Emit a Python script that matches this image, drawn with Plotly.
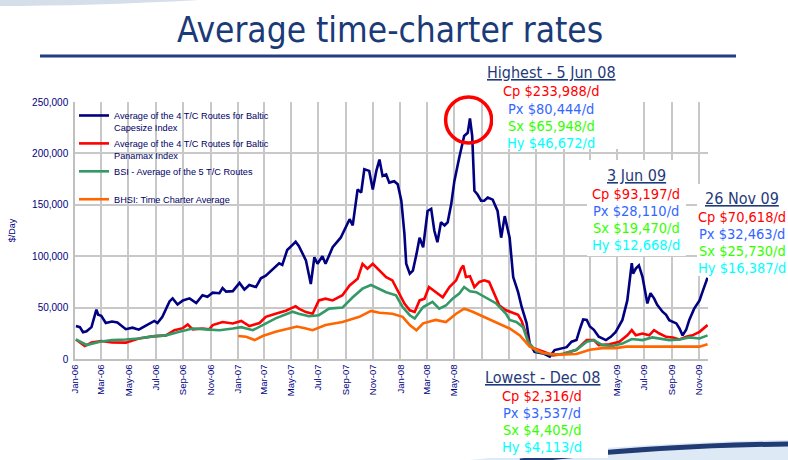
import plotly.graph_objects as go
import pandas as pd

# ---------------- data (values in $/day) ----------------
cape_dates = ["2006-01-03","2006-01-12","2006-01-19","2006-01-27","2006-02-07","2006-02-18","2006-02-22","2006-03-01","2006-03-11","2006-03-25",
 "2006-04-06","2006-04-25","2006-05-10","2006-05-24","2006-06-09","2006-06-28","2006-07-05","2006-07-16","2006-08-01","2006-08-08",
 "2006-08-19","2006-08-31","2006-09-15","2006-09-30","2006-10-14","2006-10-25","2006-11-06","2006-11-21","2006-11-28","2006-12-06",
 "2006-12-21","2007-01-05","2007-01-16","2007-01-27","2007-02-11","2007-02-22","2007-03-05","2007-03-19","2007-04-04","2007-04-11",
 "2007-04-22","2007-05-04","2007-05-11","2007-05-18","2007-06-03","2007-06-14","2007-06-22","2007-06-29","2007-07-10","2007-07-17",
 "2007-08-02","2007-08-20","2007-09-09","2007-09-16","2007-09-27","2007-10-05","2007-10-12","2007-10-23","2007-10-31","2007-11-08",
 "2007-11-15","2007-11-22","2007-11-30","2007-12-07","2007-12-18","2007-12-26","2008-01-03","2008-01-10","2008-01-14","2008-01-22",
 "2008-01-29","2008-02-06","2008-02-13","2008-02-21","2008-03-02","2008-03-10","2008-03-17","2008-03-24","2008-04-01","2008-04-09",
 "2008-04-16","2008-04-24","2008-05-01","2008-05-12","2008-05-23","2008-05-31","2008-06-05","2008-06-10","2008-06-15","2008-06-22",
 "2008-06-30","2008-07-07","2008-07-15","2008-07-26","2008-08-06","2008-08-14","2008-08-22","2008-09-02","2008-09-10","2008-09-21",
 "2008-09-29","2008-10-10","2008-10-17","2008-10-28","2008-11-01","2008-11-16","2008-12-01","2008-12-12","2008-12-27","2009-01-08",
 "2009-01-19","2009-01-30","2009-02-07","2009-02-14","2009-02-22","2009-03-01","2009-03-10","2009-03-21","2009-04-06","2009-04-17",
 "2009-04-28","2009-05-13","2009-05-24","2009-06-03","2009-06-06","2009-06-12","2009-06-19","2009-06-27","2009-07-08","2009-07-15",
 "2009-07-23","2009-07-30","2009-08-11","2009-08-19","2009-08-26","2009-09-11","2009-09-18","2009-09-25","2009-10-03","2009-10-10",
 "2009-10-21","2009-11-02","2009-11-10","2009-11-20"]
cape_vals = [32000,31000,26000,27000,31000,48000,43000,42000,35000,36500,
 35500,29000,30500,28500,32500,37000,35000,41000,56000,59000,
 53000,57000,59000,54500,62000,60500,64500,64000,69000,65500,
 66000,74000,67500,72000,70000,78500,81000,86600,93000,91500,
 106000,111000,114000,110000,96000,73000,99000,92600,100000,92600,
 108700,118000,136000,130000,165000,162000,184600,183000,165000,183000,
 194000,178000,179500,171600,173000,170000,154000,121700,92600,83000,
 86000,102000,118000,108700,144000,146000,125000,113600,133000,130000,
 133000,150700,173000,196000,217000,220000,233988,217000,163600,160000,
 154000,154000,157000,155000,144000,118000,139000,118000,79700,65000,
 50600,35000,15000,7000,6500,5500,2316,8700,10000,11500,
 16800,18400,29700,38400,38000,31600,28400,21600,18400,21600,
 26400,38000,57000,93197,83000,88000,91000,80000,54000,64000,
 59000,52600,46000,43000,37800,34600,29700,23000,28400,38000,
 49000,57000,67000,79000]

pana_dates = ["2006-01-03","2006-01-23","2006-02-07","2006-03-01","2006-03-25","2006-04-25","2006-05-24","2006-06-24","2006-07-24","2006-08-12",
 "2006-08-31","2006-09-11","2006-09-22","2006-10-14","2006-10-29","2006-11-06","2006-11-28","2006-12-21","2007-01-09","2007-01-27",
 "2007-02-19","2007-03-05","2007-03-27","2007-04-19","2007-05-11","2007-05-18","2007-06-03","2007-06-18","2007-07-02","2007-07-17",
 "2007-08-02","2007-08-24","2007-09-09","2007-09-27","2007-10-08","2007-10-19","2007-10-31","2007-11-15","2007-11-30","2007-12-14",
 "2007-12-29","2008-01-10","2008-01-22","2008-02-02","2008-02-13","2008-02-24","2008-03-05","2008-03-20","2008-04-05","2008-04-20",
 "2008-05-05","2008-05-16","2008-05-21","2008-05-27","2008-06-05","2008-06-15","2008-06-26","2008-07-07","2008-07-18","2008-07-26",
 "2008-08-10","2008-08-25","2008-09-10","2008-09-21","2008-09-29","2008-10-10","2008-10-17","2008-10-24","2008-11-16","2008-12-08",
 "2008-12-31","2009-01-30","2009-02-22","2009-03-10","2009-03-21","2009-04-14","2009-05-06","2009-05-24","2009-06-03","2009-06-12",
 "2009-06-27","2009-07-12","2009-07-23","2009-08-04","2009-08-19","2009-09-03","2009-09-18","2009-10-03","2009-10-17","2009-11-02",
 "2009-11-20"]
pana_vals = [19000,12600,16000,17500,16000,15900,20000,22000,23000,28000,
 30000,33600,28800,29600,28800,33000,36000,34600,37000,32000,
 35000,41000,44000,47000,51400,49000,45600,44000,57000,58700,
 57000,62000,71600,78000,92600,87800,92600,86000,79700,76500,
 63600,54000,47400,45800,57000,58700,70000,65000,60000,70000,
 76500,87800,91000,79700,80444,70000,75000,76500,75000,67000,
 52000,47400,45000,43000,37000,23000,14000,10600,7400,3537,
 5000,9000,18400,18400,13500,14400,16800,23000,28110,23000,
 24800,23000,28000,24800,21600,21000,19000,21600,23000,26400,
 33000]

bsi_dates = ["2006-01-03","2006-01-27","2006-02-26","2006-03-25","2006-04-25","2006-05-24","2006-06-24","2006-07-24","2006-08-23","2006-09-22",
 "2006-10-22","2006-11-21","2006-12-21","2007-01-09","2007-02-04","2007-02-26","2007-03-27","2007-05-04","2007-05-18","2007-06-10",
 "2007-07-02","2007-07-25","2007-08-24","2007-09-16","2007-10-08","2007-10-27","2007-11-15","2007-11-30","2007-12-22","2008-01-06",
 "2008-01-22","2008-02-02","2008-02-21","2008-03-13","2008-03-28","2008-04-12","2008-04-27","2008-05-12","2008-05-23","2008-06-05",
 "2008-06-19","2008-07-11","2008-08-03","2008-08-25","2008-09-02","2008-09-17","2008-10-02","2008-10-13","2008-11-01","2008-12-01",
 "2008-12-31","2009-01-30","2009-02-22","2009-03-10","2009-03-29","2009-04-21","2009-05-13","2009-06-03","2009-06-27","2009-07-19",
 "2009-08-04","2009-08-26","2009-09-18","2009-10-10","2009-11-02","2009-11-20"]
bsi_vals = [19000,13600,16800,18400,19000,20000,22000,23000,26400,29700,
 28800,28000,29700,31000,28000,33000,39500,46000,44000,41600,
 42600,49000,50000,60000,68400,72000,68400,65000,62000,50600,
 42600,39400,50600,55500,49000,52000,58700,63600,70000,65948,
 65000,60000,54000,44000,38000,36000,31000,17000,7400,4405,
 4800,9000,16800,18400,13500,12600,15000,19470,18400,21000,
 20000,18400,19000,21000,20000,23000]

bhsi_dates = ["2007-01-02","2007-01-20","2007-02-08","2007-02-26","2007-03-27","2007-04-26","2007-05-14","2007-06-03","2007-06-18","2007-07-17",
 "2007-08-24","2007-10-01","2007-10-27","2007-11-15","2007-12-14","2008-01-06","2008-01-22","2008-02-06","2008-02-21","2008-03-20",
 "2008-04-12","2008-05-05","2008-05-23","2008-06-11","2008-07-11","2008-08-10","2008-09-02","2008-09-25","2008-10-06","2008-10-17",
 "2008-11-16","2008-12-23","2009-01-30","2009-03-01","2009-03-29","2009-04-28","2009-05-21","2009-06-27","2009-08-04","2009-09-11",
 "2009-10-10","2009-11-02","2009-11-20"]
bhsi_vals = [22400,21600,18400,22400,26600,29700,31600,29700,28000,33000,
 36000,41000,46800,45000,44000,41000,33000,28000,34700,38000,
 36000,44000,49000,46000,40000,34700,29700,23000,17000,12000,
 5800,4113,4800,9000,10600,10600,12000,12000,12600,12600,
 12600,12000,14400]

series_names = ["Average of the 4 T/C Routes for Baltic<br>Capesize Index",
                "Average of the 4 T/C Routes for Baltic<br>Panamax Index",
                "BSI - Average of the 5 T/C Routes<br> ",
                "BHSI: Time Charter Average<br> "]
series_colors = ["#000080", "#FF0000", "#339966", "#FF6600"]

peak_date, peak_val = "2008-06-05", 233988

callouts = [
    ("Highest - 5 Jun 08", ["Cp $233,988/d", "Px $80,444/d", "Sx $65,948/d", "Hy $46,672/d"]),
    ("3 Jun 09", ["Cp $93,197/d", "Px $28,110/d", "Sx $19,470/d", "Hy $12,668/d"]),
    ("26 Nov 09", ["Cp $70,618/d", "Px $32,463/d", "Sx $25,730/d", "Hy $16,387/d"]),
    ("Lowest - Dec 08", ["Cp $2,316/d", "Px $3,537/d", "Sx $4,405/d", "Hy $4,113/d"]),
]
callout_colors = ["#FF0000", "#3366FF", "#33FF00", "#00FFFF"]

# ---------------- figure ----------------
W, H = 788, 460
L, R, T, B = 75, 80, 102, 101
PW, PH = W - L - R, H - T - B

def px(x):  # pixel x -> paper
    return (x - L) / PW

def py(y):  # pixel y -> paper
    return (H - B - y) / PH

fig = go.Figure()
all_series = [(cape_dates, cape_vals), (pana_dates, pana_vals), (bsi_dates, bsi_vals), (bhsi_dates, bhsi_vals)]
for i, ((d, v), name, col) in enumerate(zip(all_series, series_names, series_colors)):
    fig.add_trace(go.Scatter(x=d, y=v, mode="lines", name=name,
                             line=dict(color=col, width=2.6),
                             legendgroup="g%d" % i))

# red ring highlighting the peak (drawn unclipped)
ring_x = pd.Timestamp(peak_date) - pd.Timedelta(days=3)
fig.add_trace(go.Scatter(x=[ring_x], y=[peak_val - 1500], mode="markers", showlegend=False,
                         hoverinfo="skip", cliponaxis=False,
                         marker=dict(symbol="circle-open", size=46, color="#FF0000",
                                     line=dict(width=3.5, color="#FF0000"))))

TFONT = "DejaVu Sans Condensed, DejaVu Sans, Tahoma, sans-serif"
AFONT = "Arial, Liberation Sans, sans-serif"

fig.update_layout(
    width=W, height=H,
    margin=dict(l=L, r=R, t=T, b=B),
    paper_bgcolor="white", plot_bgcolor="white",
    showlegend=True,
    legend=dict(x=px(74), y=py(103), xanchor="left", yanchor="top",
                bgcolor="rgba(0,0,0,0)", font=dict(family=AFONT, size=9.2, color="#000066"),
                tracegroupgap=1, itemwidth=30, valign="top"),
    title=dict(text="Average time-charter rates", x=390 / W, xanchor="center",
               y=1 - 30 / H, yanchor="middle", yref="container",
               font=dict(family=TFONT, size=35, color="#1B3A78")),
    xaxis=dict(type="date", range=["2006-01-01", "2009-11-21"],
               tick0="2006-01-01", dtick="M2", tickformat="%b-%y", tickangle=-90,
               tickfont=dict(family=AFONT, size=9.5, color="#000080"),
               showgrid=True, gridcolor="#C8C8C8", gridwidth=1.5,
               showline=True, linecolor="#C0C0C0", linewidth=1.5, ticks=""),
    yaxis=dict(range=[0, 250000], dtick=50000, tickformat=",d",
               tickfont=dict(family=AFONT, size=10, color="#000080"),
               showgrid=True, gridcolor="#C8C8C8", gridwidth=1.5, zeroline=False,
               title=dict(text="$/Day", font=dict(family=AFONT, size=9, color="#000080"), standoff=15),
               showline=True, linecolor="#C0C0C0", linewidth=1.5, ticks="", ticklabelstandoff=3),
)

# title rule
fig.add_shape(type="line", xref="paper", yref="paper", x0=px(40), x1=px(736), y0=py(56), y1=py(56),
              line=dict(color="#1F3F82", width=3))

# decorative swooshes
fig.add_shape(type="path", xref="paper", yref="paper", layer="below",
              path="M %f,%f L %f,%f Q %f,%f %f,%f Z" % (px(0), py(0), px(0), py(6), px(90), py(6), px(200), py(0)),
              fillcolor="#D5DFEA", line=dict(width=0))
fig.add_shape(type="path", xref="paper", yref="paper", layer="below",
              path="M %f,%f Q %f,%f %f,%f L %f,%f Z" % (px(470), py(460), px(640), py(442), px(788), py(440), px(788), py(460)),
              fillcolor="#DDEAF6", line=dict(width=0))
fig.add_shape(type="path", xref="paper", yref="paper", layer="below",
              path="M %f,%f Q %f,%f %f,%f" % (px(520), py(461), px(660), py(445), px(790), py(444)),
              line=dict(color="#213C74", width=5))

# white boxes behind the callouts (pixel extents)
boxes = [(493, 62, 628, 149), (587, 160, 686, 256), (697, 184, 788, 276), (477, 362, 608, 458)]
for x0, y0, x1, y1 in boxes:
    fig.add_shape(type="rect", xref="paper", yref="paper", layer="above",
                  x0=px(x0), x1=px(x1), y0=py(y1), y1=py(y0),
                  fillcolor="white", line=dict(width=0))

# callout blocks: (centre x, heading centre y) in pixels
anchors = [(551, 73), (636, 175), (742, 198), (542, 377)]
for (head, lines), (cx, hy) in zip(callouts, anchors):
    fig.add_annotation(xref="paper", yref="paper", x=px(cx), y=py(hy), xanchor="center", yanchor="middle",
                       text="<u>%s</u>" % head, showarrow=False,
                       font=dict(family=TFONT, size=16, color="#1F3A7A"))
    for k, (txt, col) in enumerate(zip(lines, callout_colors)):
        ly = hy + 18.5 + 17 * k
        fig.add_annotation(xref="paper", yref="paper", x=px(cx), y=py(ly), xanchor="center", yanchor="middle",
                           text=txt, showarrow=False,
                           font=dict(family=TFONT, size=14.5, color=col))

fig.write_html("out.html", config={"displayModeBar": False},
               post_script="document.body.style.margin='0px';")
